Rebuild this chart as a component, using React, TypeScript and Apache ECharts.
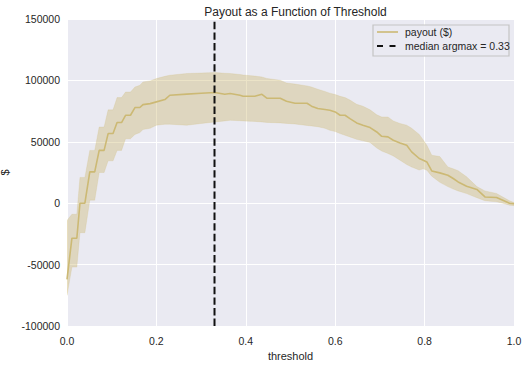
import React, { useEffect, useRef } from "react";
import * as echarts from "echarts";

// threshold values (x)
const thresholds = [
  0.0, 0.011, 0.022, 0.029, 0.04, 0.051, 0.062, 0.072, 0.083, 0.092, 0.103, 0.112, 0.122, 0.131, 0.142,
  0.152, 0.163, 0.17, 0.186, 0.2, 0.219, 0.23, 0.268, 0.3, 0.331, 0.353, 0.365, 0.387, 0.394, 0.42,
  0.436, 0.447, 0.477, 0.491, 0.51, 0.537, 0.547, 0.561, 0.577, 0.588, 0.6, 0.611, 0.622, 0.633, 0.648,
  0.662, 0.678, 0.693, 0.704, 0.718, 0.73, 0.745, 0.76, 0.771, 0.788, 0.797, 0.805, 0.816, 0.834, 0.852,
  0.864, 0.875, 0.894, 0.917, 0.935, 0.961, 0.975, 0.99, 1.0,
];
// mean payout ($)
const payoutMean = [
  -62000, -28500, -28500, 0, 0, 25500, 25500, 43000, 43000, 56700, 56700, 65700, 65700, 71600, 71600,
  77900, 77900, 80300, 81100, 82500, 84400, 87900, 88800, 89500, 90100, 88700, 89300, 87900, 87100, 87100,
  88700, 85500, 85500, 83000, 81400, 81400, 79000, 77100, 76300, 75700, 74300, 71600, 71600, 68900, 65400,
  63500, 61600, 58000, 54500, 54000, 51300, 49100, 47200, 41800, 36400, 35000, 33600, 26300, 24700, 22800,
  20100, 17300, 13800, 11200, 5100, 4600, 2400, 0, -500,
];
// lower edge of band
const payoutLower = [
  -75000, -52000, -52000, -24000, -24000, 2500, 2500, 25000, 25000, 34500, 34500, 43000, 43000, 52500, 52500,
  56000, 57500, 60000, 61000, 63500, 64300, 64300, 63500, 64900, 66200, 67000, 67500, 67200, 67000, 66600,
  66200, 65800, 65400, 65000, 64500, 63300, 62900, 62300, 61000, 59400, 58300, 56700, 55300, 54000, 52000,
  50800, 49500, 45000, 42500, 40500, 38500, 35000, 31500, 29500, 27000, 28000, 26900, 22000, 17000, 13500,
  11500, 10000, 7800, 4500, 2000, 1100, 0, -1600, -2000,
];
// upper edge of band
const payoutUpper = [
  -14000, -9000, -9000, 21000, 21000, 43000, 43000, 62000, 62000, 76000, 76000, 86000, 86000, 90500, 90500,
  94600, 96000, 98700, 99600, 101500, 103300, 104200, 105600, 106000, 106400, 105800, 105600, 104800, 104400, 103500,
  102800, 101600, 100100, 97900, 97000, 95500, 94600, 92800, 91000, 89600, 88500, 87000, 86000, 84000, 80500,
  79000, 76000, 72000, 70200, 70200, 67000, 64900, 63500, 61000, 56000, 51500, 47200, 39100, 38000, 29500,
  28000, 26500, 21500, 13500, 10000, 7900, 5000, 2000, 500,
];
const medianArgmax = 0.33;
const yTicks = { min: -100000, max: 150000, interval: 50000 };
const xTicks = { min: 0, max: 1, interval: 0.2 };

const FONT = "'Liberation Sans', Arial, sans-serif";
const GOLD = "#CCB974";
const TXT = "#262626";

export default function App() {
  const ref = useRef<HTMLDivElement>(null);
  useEffect(() => {
    if (!ref.current) return;
    const chart = echarts.init(ref.current, null, { renderer: "svg" });
    const bandData = thresholds.map((t, i) => [t, payoutLower[i], payoutUpper[i]]);
    const meanData = thresholds.map((t, i) => [t, payoutMean[i]]);
    const vline = [
      [medianArgmax, yTicks.min],
      [medianArgmax, yTicks.max],
    ];
    chart.setOption({
      animation: false,
      backgroundColor: "#ffffff",
      textStyle: { fontFamily: FONT },
      title: {
        text: "Payout as a Function of Threshold",
        left: 290.5,
        textAlign: "center",
        top: 1,
        textStyle: { fontFamily: FONT, fontSize: 12, fontWeight: "normal", color: TXT },
      },
      grid: {
        left: 67,
        right: 13,
        top: 19,
        bottom: 39,
        containLabel: false,
        outerBoundsMode: "none",
        backgroundColor: "#EAEAF2",
        show: true,
        borderWidth: 0,
      },
      xAxis: {
        type: "value",
        min: xTicks.min,
        max: xTicks.max,
        interval: xTicks.interval,
        name: "threshold",
        nameLocation: "middle",
        nameGap: 20,
        nameTextStyle: { fontFamily: FONT, fontSize: 11, color: TXT },
        axisLine: { show: false },
        axisTick: { show: false },
        axisLabel: { fontFamily: FONT, fontSize: 10.5, color: TXT, margin: 9, formatter: (v: number) => v.toFixed(1) },
        splitLine: { show: true, lineStyle: { color: "#ffffff", width: 1 } },
      },
      yAxis: {
        type: "value",
        min: yTicks.min,
        max: yTicks.max,
        interval: yTicks.interval,
        name: "$",
        nameLocation: "middle",
        nameGap: 52,
        nameRotate: 90,
        nameTextStyle: { fontFamily: FONT, fontSize: 11, color: TXT },
        axisLine: { show: false },
        axisTick: { show: false },
        axisLabel: { fontFamily: FONT, fontSize: 10.5, color: TXT, margin: 7, formatter: (v: number) => String(v) },
        splitLine: { show: true, lineStyle: { color: "#ffffff", width: 1 } },
      },
      series: [
        {
          name: "band",
          type: "custom",
          data: bandData,
          encode: { x: 0, y: [1, 2] },
          silent: true,
          z: 2,
          clip: true,
          renderItem: (params: any, api: any) => {
            if (params.dataIndex !== 0) return null;
            const upper: number[][] = [];
            const lower: number[][] = [];
            for (let i = 0; i < bandData.length; i++) {
              upper.push(api.coord([bandData[i][0], bandData[i][2]]));
              lower.push(api.coord([bandData[i][0], bandData[i][1]]));
            }
            const pts = upper.concat(lower.reverse());
            return {
              type: "polygon",
              shape: { points: pts },
              style: { fill: "rgba(204,185,116,0.4)", stroke: "rgba(204,185,116,0.25)", lineWidth: 0.8 },
            };
          },
        },
        {
          name: "payout ($)",
          type: "line",
          data: meanData,
          symbol: "none",
          lineStyle: { color: GOLD, width: 1.6 },
          z: 3,
        },
        {
          name: "median argmax = 0.33",
          type: "line",
          data: vline,
          symbol: "none",
          lineStyle: { color: "#111111", width: 2, type: [7.4, 3.2] },
          z: 4,
        },
      ],
      graphic: [
        {
          type: "rect",
          shape: { x: 373, y: 25, width: 136, height: 31 },
          style: { fill: "rgba(234,234,242,0.9)", stroke: "#c4c4c4", lineWidth: 1.2 },
          z: 10,
        },
        {
          type: "line",
          shape: { x1: 377, y1: 32, x2: 398, y2: 32 },
          style: { stroke: GOLD, lineWidth: 1.6 },
          z: 11,
        },
        {
          type: "text",
          x: 405,
          y: 32,
          style: { text: "payout ($)", fontFamily: FONT, fontSize: 10.5, fill: TXT, verticalAlign: "middle" },
          z: 11,
        },
        {
          type: "line",
          shape: { x1: 377, y1: 46, x2: 397, y2: 46 },
          style: { stroke: "#111111", lineWidth: 2, lineDash: [6, 6.5] },
          z: 11,
        },
        {
          type: "text",
          x: 405,
          y: 46,
          style: { text: "median argmax = 0.33", fontFamily: FONT, fontSize: 10.5, fill: TXT, verticalAlign: "middle" },
          z: 11,
        },
      ],
    });
    return () => chart.dispose();
  }, []);
  return <div ref={ref} style={{ width: 527, height: 365, position: "absolute", left: 0, top: 0 }} />;
}
